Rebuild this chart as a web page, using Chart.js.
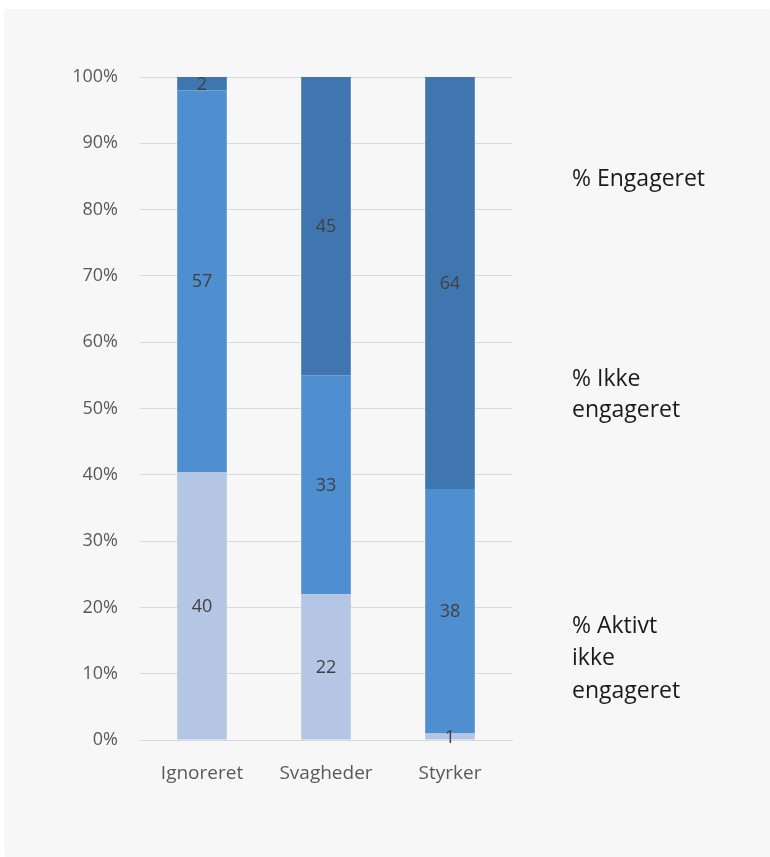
<!DOCTYPE html>
<html>
<head>
<meta charset="utf-8">
<script src="https://cdn.jsdelivr.net/npm/chart.js@4"></script>
<style>
  html, body { margin: 0; padding: 0; background: #ffffff; }
  #panel { position: absolute; left: 5px; top: 11px; width: 765px; height: 846px; background: #f7f7f7; box-shadow: 0 -1px 2px rgba(0,0,0,0.08); }
  canvas { display: block; }
</style>
</head>
<body>
<div id="panel"><canvas id="c" width="765" height="846"></canvas></div>
<script>
const categories = ['Ignoreret', 'Svagheder', 'Styrker'];
const seriesNames = ['% Aktivt ikke engageret', '% Ikke engageret', '% Engageret'];
const aktivtIkkeEngageret = [40, 22, 1];
const ikkeEngageret = [57, 33, 38];
const engageret = [2, 45, 64];
const yTicks = ['0%', '10%', '20%', '30%', '40%', '50%', '60%', '70%', '80%', '90%', '100%'];
const legendLines = [['% Engageret'], ['% Ikke', 'engageret'], ['% Aktivt', 'ikke', 'engageret']];

const raw = [aktivtIkkeEngageret, ikkeEngageret, engageret];
const totals = categories.map((_, i) => raw.reduce((s, a) => s + a[i], 0));
const pct = raw.map(a => a.map((v, i) => v / totals[i] * 100));
const colors = ['#b4c6e4', '#4f8fcf', '#3f76b0'];
const FONT = '"Open Sans", "DejaVu Sans", sans-serif';

const labelPlugin = {
  id: 'segLabels',
  afterDatasetsDraw(chart) {
    const ctx = chart.ctx;
    ctx.save();
    ctx.font = '18px ' + FONT;
    ctx.fillStyle = '#404040';
    ctx.textAlign = 'center';
    ctx.textBaseline = 'middle';
    chart.data.datasets.forEach((ds, di) => {
      const meta = chart.getDatasetMeta(di);
      meta.data.forEach((bar, i) => {
        const y = (bar.y + bar.base) / 2;
        ctx.fillText(String(raw[di][i]), bar.x, y + 1);
      });
    });
    // legend text
    ctx.font = '23px ' + FONT;
    ctx.fillStyle = '#1a1a1a';
    ctx.textAlign = 'left';
    const starts = [168, 368, 615];
    const steps = [0, 31, 32.5];
    legendLines.forEach((lines, k) => {
      lines.forEach((t, j) => ctx.fillText(t, 567, starts[k] + j * steps[k]));
    });
    ctx.restore();
  }
};

new Chart(document.getElementById('c'), {
  type: 'bar',
  data: {
    labels: categories,
    datasets: seriesNames.map((n, k) => ({
      label: n,
      data: pct[k],
      backgroundColor: colors[k],
      borderWidth: 0,
      barPercentage: 0.8,
      categoryPercentage: 0.5
    }))
  },
  options: {
    responsive: false,
    animation: false,
    devicePixelRatio: 1,
    layout: { padding: { left: 0, right: 258, top: 66, bottom: 0 } },
    plugins: { legend: { display: false }, tooltip: { enabled: false } },
    scales: {
      x: {
        stacked: true,
        grid: { display: false },
        border: { display: true, color: '#d9d9d9', width: 1 },
        ticks: { color: '#595959', font: { size: 19, family: FONT }, padding: 14 },
        afterFit(scale) { scale.height = 117; }
      },
      y: {
        stacked: true,
        min: 0, max: 100,
        grid: { color: '#d9d9d9', drawTicks: false },
        border: { display: false },
        ticks: {
          stepSize: 10,
          color: '#595959',
          font: { size: 18, family: FONT },
          padding: 22,
          callback: (v) => yTicks[Math.round(v / 10)]
        },
        afterFit(scale) { scale.width = 135; }
      }
    }
  },
  plugins: [labelPlugin]
});
</script>
</body>
</html>
